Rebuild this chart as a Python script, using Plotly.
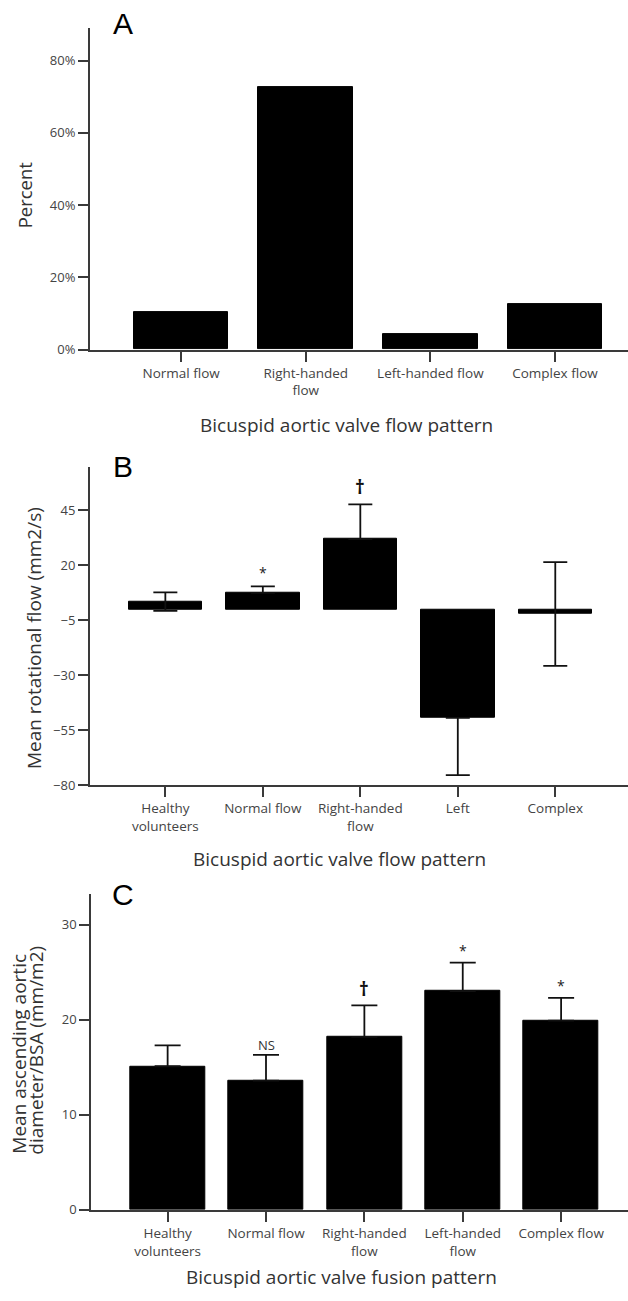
import plotly.graph_objects as go

# ---------------- data ----------------
a_categories = ["Normal flow", "Right-handed<br>flow", "Left-handed flow", "Complex flow"]
a_percent = [10.4, 72.7, 4.2, 12.6]
a_ticks = [0, 20, 40, 60, 80]
a_ticktext = ["0%", "20%", "40%", "60%", "80%"]

b_categories = ["Healthy<br>volunteers", "Normal flow", "Right-handed<br>flow", "Left", "Complex"]
b_mean = [3.5, 7.5, 32.0, -49.4, -2.1]
# visible error extents (the part hidden behind the bar is not drawn)
b_err_plus = [4.2, 3.0, 15.8, 0.0, 23.6]
b_err_minus = [4.2, 0.0, 0.0, 26.0, 23.6]
b_ticks = [-80, -55, -30, -5, 20, 45]
b_marks = ["", "*", "†", "", ""]

c_categories = ["Healthy<br>volunteers", "Normal flow", "Right-handed<br>flow", "Left-handed<br>flow", "Complex flow"]
c_mean = [15.1, 13.6, 18.2, 23.0, 19.9]
c_err = [2.2, 2.7, 3.3, 3.0, 2.4]
c_ticks = [0, 10, 20, 30]
c_marks = ["", "NS", "†", "*", "*"]

# ---------------- layout helpers ----------------
W, H = 628, 1301
FONT = "Open Sans"
AXC = "#3a3a3a"
TXT = "#333333"


def py(px):
    return 1 - px / H


def px_x(px):
    return px / W


fig = go.Figure()

bar_style = dict(marker=dict(color="black", line=dict(color="black", width=1)), showlegend=False)
err_style = dict(color="#111", thickness=1.8)

fig.add_trace(go.Bar(x=list(range(len(a_percent))), y=a_percent, width=0.76,
                     xaxis="x", yaxis="y", **bar_style))
fig.add_trace(go.Bar(x=list(range(len(b_mean))), y=b_mean, width=0.754,
                     error_y=dict(type="data", symmetric=False, array=b_err_plus,
                                  arrayminus=b_err_minus, visible=True, width=12, **err_style),
                     xaxis="x2", yaxis="y2", **bar_style))
fig.add_trace(go.Bar(x=list(range(len(c_mean))), y=c_mean, width=0.763,
                     error_y=dict(type="data", array=c_err, symmetric=False,
                                  arrayminus=[0] * len(c_err), visible=True, width=13, **err_style),
                     xaxis="x3", yaxis="y3", **bar_style))

common_x = dict(showline=True, linecolor=AXC, linewidth=2, ticks="outside", ticklen=10,
                tickwidth=2, tickcolor=AXC, showgrid=False, zeroline=False,
                tickfont=dict(family=FONT, size=13.5, color="#444"), fixedrange=True)
common_y = dict(showline=True, linecolor=AXC, linewidth=2, ticks="outside", ticklen=10,
                tickwidth=2, tickcolor=AXC, showgrid=False, zeroline=False,
                tickfont=dict(family=FONT, size=13, color="#444"), fixedrange=True)

fig.update_layout(
    width=W, height=H,
    margin=dict(l=0, r=0, t=0, b=0),
    paper_bgcolor="white", plot_bgcolor="white",
    font=dict(family=FONT, color=TXT),
    bargap=0,
    xaxis=dict(domain=[px_x(90), 1], range=[-0.731, 3.586], anchor="y",
               tickmode="array", tickvals=list(range(len(a_categories))), ticktext=a_categories,
               **common_x),
    yaxis=dict(domain=[py(352), py(28.3)], range=[0, 89.0], anchor="x",
               tickmode="array", tickvals=a_ticks, ticktext=a_ticktext, **common_y),
    xaxis2=dict(domain=[px_x(90), 1], range=[-0.773, 4.746], anchor="y2",
                tickmode="array", tickvals=list(range(len(b_categories))), ticktext=b_categories,
                **common_x),
    yaxis2=dict(domain=[py(790.7), py(470)], range=[-80, 64.9], anchor="x2",
                tickmode="array", tickvals=b_ticks, **common_y),
    xaxis3=dict(domain=[px_x(91.3), 1], range=[-0.776, 4.68], anchor="y3",
                tickmode="array", tickvals=list(range(len(c_categories))), ticktext=c_categories,
                **common_x),
    yaxis3=dict(domain=[py(1218.3), py(900)], range=[0, 33.24], anchor="x3",
                tickmode="array", tickvals=c_ticks, **common_y),
)

ann = []
# panel letters
for letter, cy in [("A", 24), ("B", 470), ("C", 901)]:
    ann.append(dict(text=letter, x=px_x(123), y=py(cy), xref="paper", yref="paper",
                    xanchor="center", yanchor="middle", showarrow=False,
                    font=dict(family="Liberation Sans", size=30, color="black")))

# axis titles
ann.append(dict(text="Bicuspid aortic valve flow pattern", x=px_x(346.5), y=py(428), xref="paper",
                yref="paper", xanchor="center", yanchor="middle", showarrow=False,
                font=dict(family=FONT, size=19, color=TXT)))
ann.append(dict(text="Bicuspid aortic valve flow pattern", x=px_x(339), y=py(865), xref="paper",
                yref="paper", xanchor="center", yanchor="middle", showarrow=False,
                font=dict(family=FONT, size=19, color=TXT)))
ann.append(dict(text="Bicuspid aortic valve fusion pattern", x=px_x(341), y=py(1286), xref="paper",
                yref="paper", xanchor="center", yanchor="middle", showarrow=False,
                font=dict(family=FONT, size=19, color=TXT)))
ann.append(dict(text="Percent", x=px_x(24), y=py(196.7), xref="paper", yref="paper",
                xanchor="center", yanchor="middle", textangle=-90, showarrow=False,
                font=dict(family=FONT, size=18.5, color=TXT)))
ann.append(dict(text="Mean rotational flow (mm2/s)", x=px_x(34), y=py(642.5), xref="paper",
                yref="paper", xanchor="center", yanchor="middle", textangle=-90, showarrow=False,
                font=dict(family=FONT, size=19, color=TXT)))
ann.append(dict(text="Mean ascending aortic", x=px_x(19), y=py(1061), xref="paper",
                yref="paper", xanchor="center", yanchor="middle", textangle=-90, showarrow=False,
                font=dict(family=FONT, size=19, color=TXT)))
ann.append(dict(text="diameter/BSA (mm/m2)", x=px_x(36), y=py(1058), xref="paper",
                yref="paper", xanchor="center", yanchor="middle", textangle=-90, showarrow=False,
                font=dict(family=FONT, size=19, color=TXT)))


# significance marks
def mark_font(m):
    if m == "†":
        return dict(family=FONT, size=19, color="#111", weight="bold")
    if m == "NS":
        return dict(family=FONT, size=13, color="#333")
    return dict(family=FONT, size=14, color="#222")


for i, m in enumerate(b_marks):
    if m:
        ann.append(dict(text=m, x=i, y=b_mean[i] + b_err_plus[i], xref="x2", yref="y2",
                        xanchor="center", yanchor="bottom", yshift=2, showarrow=False,
                        font=mark_font(m)))
for i, m in enumerate(c_marks):
    if m:
        ann.append(dict(text=m, x=i, y=c_mean[i] + c_err[i], xref="x3", yref="y3",
                        xanchor="center", yanchor="bottom", yshift=-1 if m == "NS" else 1,
                        showarrow=False, font=mark_font(m)))

fig.update_layout(annotations=ann)

fig.write_html("out.html")
